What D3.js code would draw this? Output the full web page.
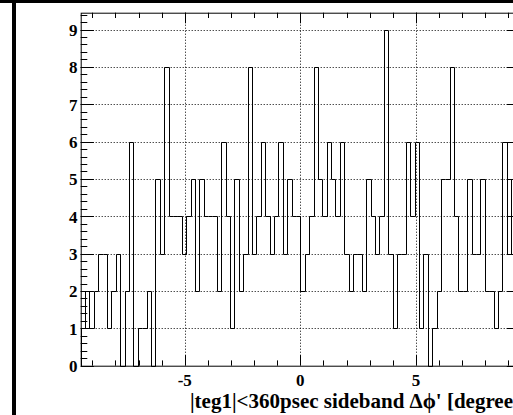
<!DOCTYPE html>
<html>
<head>
<meta charset="utf-8">
<script src="https://cdn.jsdelivr.net/npm/d3@7"></script>
<style>
  html, body { margin: 0; padding: 0; background: #fff; }
  svg { display: block; }
  text { font-family: "Liberation Serif", "Times New Roman", serif; font-weight: bold; fill: #000; }
</style>
</head>
<body>
<svg id="chart" width="513" height="415"></svg>
<script>
// Histogram of Δϕ' for the |teg1|<360psec sideband: 100 bins on [-9.5, 9.5]
const binRange = [-9.5, 9.5];
const counts = [
  1, 2, 1, 2, 3, 3, 1, 2, 3, 0,
  2, 6, 0, 1, 1, 2, 0, 5, 3, 8,
  4, 4, 4, 3, 4, 5, 2, 5, 4, 4,
  4, 2, 6, 4, 1, 5, 2, 3, 8, 3,
  4, 6, 4, 3, 4, 6, 3, 5, 4, 4,
  2, 3, 4, 8, 5, 4, 6, 5, 4, 6,
  3, 2, 3, 3, 2, 5, 4, 3, 4, 9,
  3, 1, 3, 3, 6, 4, 6, 1, 3, 0,
  1, 2, 5, 5, 8, 4, 2, 2, 5, 3,
  3, 5, 2, 2, 1, 2, 6, 3, 5, 4
];
const yMax = 9.45;
const xTickLabels = ["-5", "0", "5"];
const yTickLabels = ["0", "1", "2", "3", "4", "5", "6", "7", "8", "9"];
const xTitle = "|teg1|<360psec sideband \u0394\u03d5' [degree]";

const svg = d3.select("#chart");
const frame = { left: 80.7, right: 520, top: 12.7, bottom: 365.7 };

const x = d3.scaleLinear().domain(binRange).range([frame.left, frame.right]);
const y = d3.scaleLinear().domain([0, yMax]).range([frame.bottom, frame.top]);

// pad border
svg.append("rect").attr("x", 0).attr("y", 0).attr("width", 513).attr("height", 3).attr("fill", "#000");
svg.append("rect").attr("x", 12).attr("y", 0).attr("width", 4).attr("height", 415).attr("fill", "#000");

const plot = svg.append("g");

// dotted grid
const grid = plot.append("g").attr("stroke", "#000").attr("stroke-width", 1)
  .attr("stroke-dasharray", "1,2").attr("fill", "none");
yTickLabels.map(Number).filter(v => v > 0).forEach(v => {
  grid.append("line").attr("x1", frame.left).attr("x2", frame.right)
    .attr("y1", Math.round(y(v)) + 0.5).attr("y2", Math.round(y(v)) + 0.5);
});
xTickLabels.map(Number).forEach(v => {
  grid.append("line").attr("y1", frame.top).attr("y2", frame.bottom)
    .attr("x1", Math.round(x(v)) + 0.5).attr("x2", Math.round(x(v)) + 0.5);
});

// histogram outline
const nb = counts.length;
const binW = (binRange[1] - binRange[0]) / nb;
const pts = [[binRange[0], 0]];
counts.forEach((c, i) => {
  const lo = binRange[0] + i * binW;
  pts.push([lo, c], [lo + binW, c]);
});
pts.push([binRange[1], 0]);
const line = d3.line().x(d => Math.round(x(d[0])) + 0.5).y(d => Math.round(y(d[1])) + 0.5);
plot.append("path").attr("d", line(pts)).attr("fill", "none")
  .attr("stroke", "#000").attr("stroke-width", 1);

// frame
plot.append("rect").attr("x", frame.left + 0.5).attr("y", frame.top + 0.5)
  .attr("width", frame.right - frame.left).attr("height", frame.bottom - frame.top)
  .attr("fill", "none").attr("stroke", "#000").attr("stroke-width", 1);

// ticks
const tk = plot.append("g").attr("stroke", "#000").attr("stroke-width", 1);
const xMajorLen = 10.6, xMinorLen = 5.3, yMajorLen = 13.2, yMinorLen = 6.6;
d3.range(-9, 10).forEach(v => {
  const px = Math.round(x(v)) + 0.5;
  const len = (v % 5 === 0) ? xMajorLen : xMinorLen;
  tk.append("line").attr("x1", px).attr("x2", px).attr("y1", frame.bottom).attr("y2", frame.bottom - len);
  tk.append("line").attr("x1", px).attr("x2", px).attr("y1", frame.top).attr("y2", frame.top + len);
});
d3.range(0, 48).forEach(i => {
  const v = i * 0.2;
  if (v > yMax) return;
  const py = Math.round(y(v)) + 0.5;
  const len = (i % 5 === 0) ? yMajorLen : yMinorLen;
  tk.append("line").attr("y1", py).attr("y2", py).attr("x1", frame.left).attr("x2", frame.left + len);
  tk.append("line").attr("y1", py).attr("y2", py).attr("x1", frame.right).attr("x2", frame.right - len);
});

// tick labels
yTickLabels.forEach(t => {
  svg.append("text").attr("x", 77.5).attr("y", y(+t) + 6.5)
    .attr("text-anchor", "end").attr("font-size", 17).text(t);
});
xTickLabels.forEach(t => {
  svg.append("text").attr("x", x(+t)).attr("y", 386)
    .attr("text-anchor", "middle").attr("font-size", 17).text(t);
});

// axis title
svg.append("text").attr("x", frame.right).attr("y", 408)
  .attr("text-anchor", "end").attr("font-size", 21).text(xTitle);
</script>
</body>
</html>
